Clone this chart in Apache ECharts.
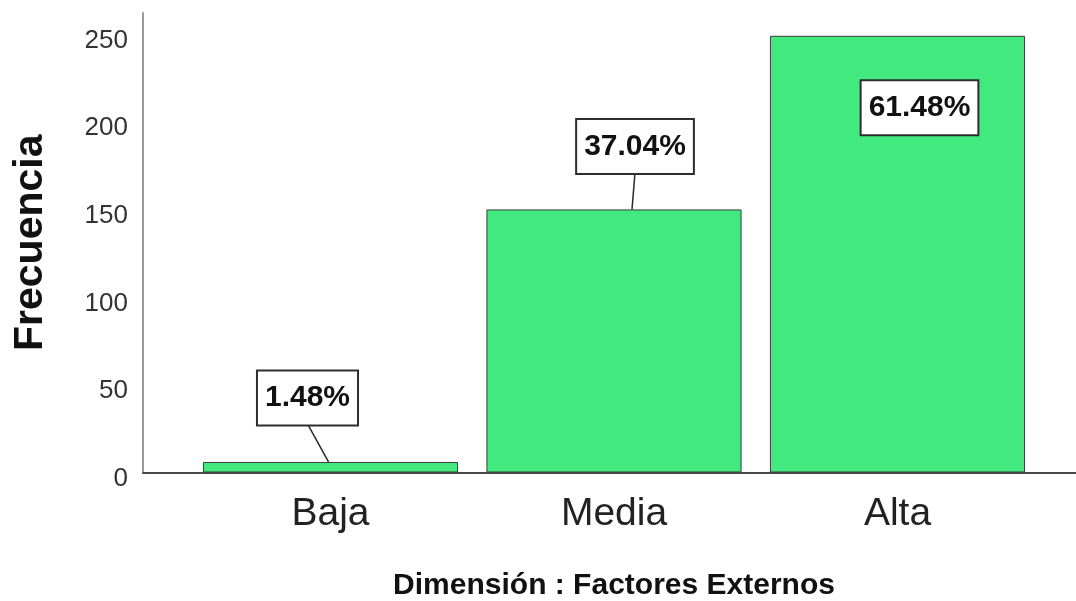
<!DOCTYPE html>
<html>
<head>
<meta charset="utf-8">
<script src="https://cdn.jsdelivr.net/npm/echarts@6/dist/echarts.min.js"></script>
<style>
  html, body { margin: 0; padding: 0; background: #ffffff; }
  #chart { width: 1076px; height: 601px; }
</style>
</head>
<body>
<div id="chart"></div>
<script>
// Frequency of each level of the "Factores Externos" dimension
const categories = ['Baja', 'Media', 'Alta'];
const frequencies = [6, 150, 249];
const yTicks = [0, 50, 100, 150, 200, 250];

const total = frequencies.reduce((a, b) => a + b, 0);
const percentLabels = frequencies.map(v => (v / total * 100).toFixed(2) + '%');

// Callout placement relative to each bar's top centre (px); lineX = where the leader meets the bar
const calloutLayout = [
  { dx: -23, dy: -64, lineX: -2 },
  { dx: 21, dy: -63, lineX: 18 },
  { dx: 22, dy: 72, lineX: null }
];

const FONT = '"Liberation Sans", Arial, sans-serif';
const Y_MAX = 262;

const chart = echarts.init(document.getElementById('chart'), null, { renderer: 'canvas' });

chart.setOption({
  animation: false,
  backgroundColor: '#ffffff',
  grid: [
    // frame grid: carries the value axis and the full-width baseline
    { left: 143, right: 0, top: 13, bottom: 128.5, outerBoundsMode: 'none', containLabel: false },
    // plotting grid for the bars
    { left: 188.75, right: 36.75, top: 13, bottom: 128.5, outerBoundsMode: 'none', containLabel: false }
  ],
  xAxis: [
    {
      gridIndex: 0, type: 'value', min: 0, max: 1,
      axisLine: { show: true, onZero: false, lineStyle: { color: '#4a4a4a', width: 2 } },
      axisTick: { show: false }, axisLabel: { show: false }, splitLine: { show: false }
    },
    {
      gridIndex: 1, type: 'category', data: categories,
      axisLine: { show: false }, axisTick: { show: false }, splitLine: { show: false },
      axisLabel: { fontFamily: FONT, fontSize: 39, color: '#222222', margin: 22 },
      name: 'Dimensión : Factores Externos',
      nameLocation: 'middle',
      nameGap: 98,
      nameTextStyle: { fontFamily: FONT, fontSize: 30, fontWeight: 'bold', color: '#111111' }
    }
  ],
  yAxis: [
    {
      gridIndex: 0, type: 'value', min: 0, max: Y_MAX, interval: 50,
      axisLine: { show: true, onZero: false, lineStyle: { color: '#9a9a9a', width: 2 } },
      axisTick: { show: false }, splitLine: { show: false },
      axisLabel: {
        fontFamily: FONT, fontSize: 26, color: '#333333', margin: 15,
        verticalAlign: 'top', lineHeight: 13,
        formatter: v => (yTicks.indexOf(v) >= 0 ? String(v) : '')
      },
      name: 'Frecuencia',
      nameLocation: 'middle',
      nameGap: 92,
      nameTextStyle: { fontFamily: FONT, fontSize: 41, fontWeight: 'bold', color: '#111111' }
    },
    {
      gridIndex: 1, type: 'value', min: 0, max: Y_MAX, show: false
    }
  ],
  series: [
    {
      type: 'bar',
      xAxisIndex: 1, yAxisIndex: 1,
      data: frequencies,
      barCategoryGap: '10%',
      itemStyle: { color: '#42E97F', borderColor: '#3c3c3c', borderWidth: 1 },
      z: 2
    },
    {
      type: 'custom',
      xAxisIndex: 1, yAxisIndex: 1,
      data: frequencies.map((v, i) => [i, v]),
      z: 5,
      renderItem: function (params, api) {
        const i = params.dataIndex;
        const top = api.coord([api.value(0), api.value(1)]);
        const lay = calloutLayout[i];
        const cx = top[0] + lay.dx;
        const cy = top[1] + lay.dy;
        const children = [];
        if (lay.lineX !== null) {
          children.push({
            type: 'line',
            shape: { x1: cx, y1: cy + 26, x2: top[0] + lay.lineX, y2: top[1] },
            style: { stroke: '#2a2a2a', lineWidth: 1.5 }
          });
        }
        children.push({
          type: 'text',
          x: cx, y: cy,
          style: {
            text: percentLabels[i],
            font: 'bold 30px ' + FONT,
            fill: '#111111',
            align: 'center',
            verticalAlign: 'middle',
            backgroundColor: '#ffffff',
            borderColor: '#2e2e2e',
            borderWidth: 2,
            padding: [12, 7, 11, 7]
          }
        });
        return { type: 'group', children: children };
      }
    }
  ]
});
</script>
</body>
</html>
